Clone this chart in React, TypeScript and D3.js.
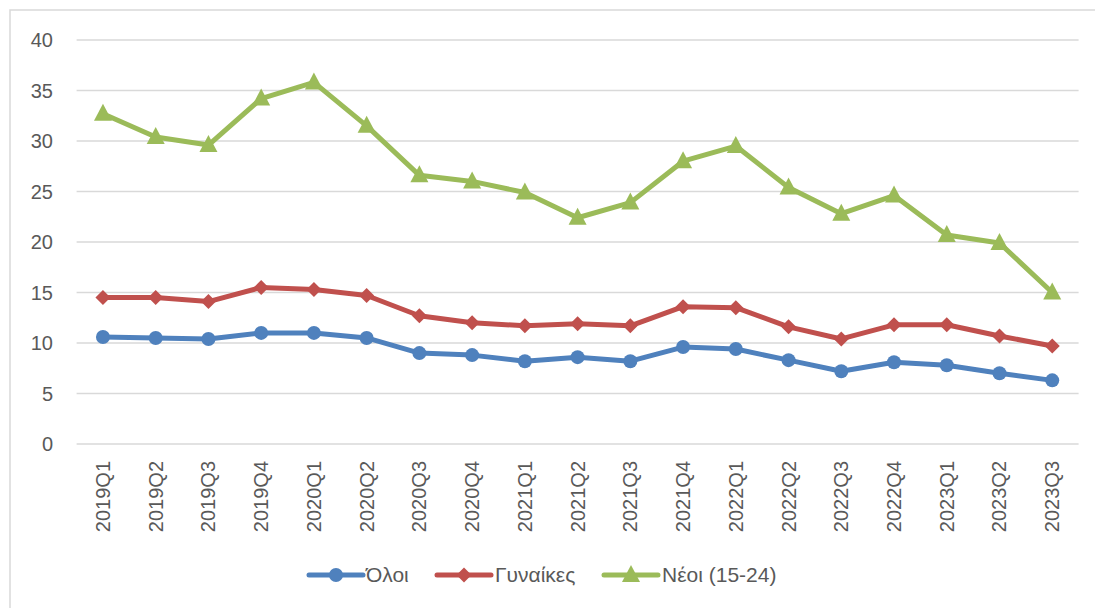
import React from "react";
import * as d3 from "d3";

const categories = ["2019Q1","2019Q2","2019Q3","2019Q4","2020Q1","2020Q2","2020Q3","2020Q4","2021Q1","2021Q2","2021Q3","2021Q4","2022Q1","2022Q2","2022Q3","2022Q4","2023Q1","2023Q2","2023Q3"];
const oloi = [10.6,10.5,10.4,11.0,11.0,10.5,9.0,8.8,8.2,8.6,8.2,9.6,9.4,8.3,7.2,8.1,7.8,7.0,6.3];
const gynaikes = [14.5,14.5,14.1,15.5,15.3,14.7,12.7,12.0,11.7,11.9,11.7,13.6,13.5,11.6,10.4,11.8,11.8,10.7,9.7];
const neoi = [32.7,30.4,29.6,34.2,35.8,31.5,26.6,26.0,24.9,22.4,23.9,28.0,29.5,25.4,22.8,24.6,20.7,19.9,15.0];
const yTicks = [0,5,10,15,20,25,30,35,40];
const seriesNames = ["Όλοι","Γυναίκες","Νέοι (15-24)"];

const colors = ["#4F81BD", "#C0504D", "#9BBB59"];
const font = "'Liberation Sans', Arial, sans-serif";

function Marker({ kind, x, y, color }: { kind: number; x: number; y: number; color: string }) {
  if (kind === 0) return <circle cx={x} cy={y} r={7} fill={color} />;
  if (kind === 1) {
    const s = 7.5;
    return <path d={`M${x},${y - s}L${x + s},${y}L${x},${y + s}L${x - s},${y}Z`} fill={color} />;
  }
  return <path d={`M${x},${y - 10}L${x + 9},${y + 7}L${x - 9},${y + 7}Z`} fill={color} />;
}

export default function App() {
  const W = 1095, H = 608;
  const x = d3.scaleBand<string>().domain(categories).range([76.6, 1078.6]);
  const y = d3.scaleLinear().domain([0, 40]).range([444, 40]);
  const cx = (c: string) => (x(c) as number) + x.bandwidth() / 2;
  const line = d3.line<number>().x((_, i) => cx(categories[i])).y((v) => y(v));
  const data = [oloi, gynaikes, neoi];
  const legendX = [309, 437, 604];
  const legendTextX = [366, 495, 662];
  const ly = 575;

  return (
    <svg width={W} height={H} style={{ position: "absolute", left: 0, top: 0, background: "#fff" }}>
      <rect x={10} y={10} width={1200} height={700} fill="#fff" stroke="#d9d9d9" strokeWidth={1.5} />
      {yTicks.map((t) => (
        <g key={t}>
          <line x1={76.6} x2={1078.6} y1={y(t)} y2={y(t)} stroke="#d9d9d9" strokeWidth={1.5} />
          <text x={53} y={y(t)} dy="0.35em" textAnchor="end" fontFamily={font} fontSize={20} fill="#595959">{t}</text>
        </g>
      ))}
      {categories.map((c) => (
        <text key={c} transform={`translate(${cx(c)},461) rotate(-90)`} dy="0.35em" textAnchor="end" fontFamily={font} fontSize={20} fill="#595959">{c}</text>
      ))}
      {data.map((vals, k) => (
        <g key={k}>
          <path d={line(vals) || ""} fill="none" stroke={colors[k]} strokeWidth={5} strokeLinejoin="round" strokeLinecap="round" />
          {vals.map((v, i) => (
            <Marker key={i} kind={k} x={cx(categories[i])} y={y(v)} color={colors[k]} />
          ))}
        </g>
      ))}
      {seriesNames.map((n, k) => (
        <g key={n}>
          <line x1={legendX[k]} x2={legendX[k] + 54} y1={ly} y2={ly} stroke={colors[k]} strokeWidth={5} strokeLinecap="round" />
          <Marker kind={k} x={legendX[k] + 27} y={ly} color={colors[k]} />
          <text x={legendTextX[k]} y={ly} dy="0.35em" fontFamily={font} fontSize={21} fill="#595959">{n}</text>
        </g>
      ))}
    </svg>
  );
}
